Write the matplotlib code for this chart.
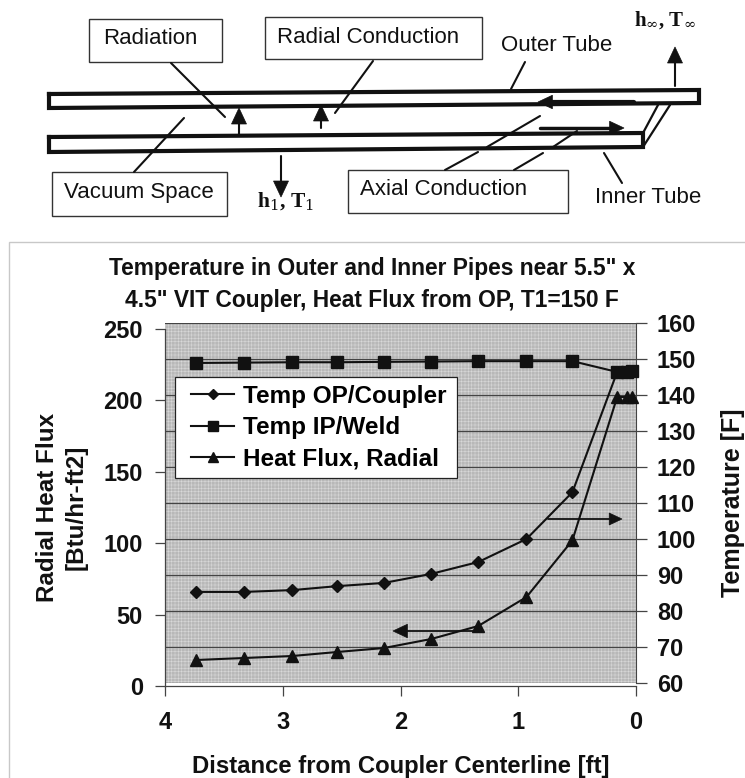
import numpy as np
import matplotlib
matplotlib.use("Agg")
import matplotlib.pyplot as plt
from matplotlib.patches import Rectangle, Polygon

plt.rcParams['font.family'] = ['Liberation Sans', 'DejaVu Sans']
plt.rcParams['hatch.linewidth'] = 0.4

W, H = 745, 778
INK = '#111111'

# series
distance = [3.74, 3.33, 2.92, 2.54, 2.14, 1.74, 1.34, 0.93, 0.54, 0.16, 0.08, 0.03]
temp_op = [85.3, 85.3, 85.8, 86.9, 87.8, 90.3, 93.6, 100, 113, 146.4, 146.6, 146.7]
temp_ip = [148.9, 149, 149.1, 149.1, 149.2, 149.3, 149.4, 149.4, 149.4, 146.4, 146.5, 146.7]
heat_flux = [18.2, 19.6, 21, 23.8, 26.6, 32.9, 42, 62.3, 102, 202.4, 202.4, 202.4]

x_ticks = [4, 3, 2, 1, 0]
left_ticks = [0, 50, 100, 150, 200, 250]
right_ticks = [60, 70, 80, 90, 100, 110, 120, 130, 140, 150, 160]
legend_labels = ["Temp OP/Coupler", "Temp IP/Weld", "Heat Flux, Radial"]

fig = plt.figure(figsize=(W / 100, H / 100), dpi=100, facecolor='white')


def pixel_axes(zorder):
    # full figure axes in pixel coordinates, y going down
    a = fig.add_axes([0, 0, 1, 1], zorder=zorder)
    a.set_xlim(0, W)
    a.set_ylim(H, 0)
    a.axis('off')
    a.patch.set_alpha(0)
    return a


bg = pixel_axes(0)
top = pixel_axes(5)
bg.add_patch(Rectangle((9, 242), W, H, fc='white', ec='#c8c8c8', lw=1.0))


def seg(x0, y0, x1, y1, lw=1.5, a=bg):
    a.plot([x0, x1], [y0, y1], color=INK, lw=lw, solid_capstyle='round')


def arrow(x0, y0, x1, y1, size=10, lw=1.5, a=bg):
    # line with a solid triangle head ending at x1, y1
    d = np.array([x1 - x0, y1 - y0], dtype=float)
    d /= np.hypot(*d)
    n = np.array([-d[1], d[0]])
    tip = np.array([x1, y1])
    base = tip - d * size * 1.6
    seg(x0, y0, base[0], base[1], lw, a)
    a.add_patch(Polygon([tip, base + n * size * 0.75, base - n * size * 0.75], fc=INK, ec=INK, lw=0.5))


def label_box(x0, y0, x1, y1, text, tx, ty):
    bg.add_patch(Rectangle((x0, y0), x1 - x0, y1 - y0, fc='white', ec='#333333', lw=1.0))
    bg.text(tx, ty, text, fontsize=16, color=INK, va='center', ha='left')


# tubes
bg.plot([49, 699, 699, 49, 49], [94, 90, 103, 108, 94], color=INK, lw=3, solid_joinstyle='miter')
bg.plot([49, 643, 643, 49, 49], [137, 133, 147, 152, 137], color=INK, lw=3, solid_joinstyle='miter')
seg(643, 133, 658, 105, 1.6)
seg(643, 147, 670, 105, 1.6)

label_box(89, 19, 222, 62, "Radiation", 103, 38)
label_box(265, 17, 482, 59, "Radial Conduction", 277, 37)
label_box(52, 172, 227, 216, "Vacuum Space", 64, 192)
label_box(348, 170, 568, 213, "Axial Conduction", 360, 189)
bg.text(501, 45, "Outer Tube", fontsize=16, color=INK, va='center')
bg.text(595, 197, "Inner Tube", fontsize=16, color=INK, va='center')
bg.text(634, 20, "h$_{\\infty}$, T$_{\\infty}$", fontsize=15, color=INK, va='center',
        family='Liberation Serif', fontweight='bold', math_fontfamily='dejavuserif')
bg.text(257, 202, "h$_{1}$, T$_{1}$", fontsize=15.5, color=INK, va='center',
        family='Liberation Serif', fontweight='bold', math_fontfamily='dejavuserif')

# leader lines
seg(171, 63, 225, 117)
seg(373, 61, 335, 113)
seg(525, 62, 511, 89)
seg(184, 118, 134, 172)
seg(604, 153, 622, 183)
seg(540, 116, 487, 147)
seg(478, 152, 445, 170)
seg(577, 131, 553, 147)
seg(543, 153, 514, 170)

# flux arrows
arrow(239, 134, 239, 108)
arrow(321, 128, 321, 105)
arrow(675, 86, 675, 47)
arrow(281, 156, 281, 197)
arrow(634, 102, 538, 102, size=9, lw=3)
arrow(540, 128, 624, 128, size=9, lw=2.5)

# right axis sits a few pixels higher than the left one, the scan is skewed
ax2 = fig.add_axes([165 / W, 1 - 683 / H, 471 / W, 360 / H], zorder=1)
ax2.set_facecolor('#b8b8b8')
ax2.add_patch(Rectangle((0, 0), 1, 1, transform=ax2.transAxes, fc='none', ec='#d8d8d8',
                        hatch='+++++', lw=0, zorder=0))
ax2.set_xlim(4, 0)
ax2.set_ylim(60, 160)
ax2.set_xticks([])
ax2.yaxis.tick_right()
ax2.yaxis.set_label_position('right')
ax2.set_yticks(right_ticks)
for name in ['top', 'left', 'bottom']:
    ax2.spines[name].set_visible(False)
ax2.spines['right'].set_color('#444444')
ax2.tick_params(axis='y', length=8, width=0.9, color='#444444', labelsize=17, pad=7)
for t in ax2.get_yticklabels():
    t.set_fontweight('bold')
    t.set_color(INK)
ax2.set_ylabel("Temperature [F]", fontsize=18, fontweight='bold', color=INK, labelpad=18)
ax2.grid(True, axis='y', color='#444444', lw=0.9)
ax2.set_axisbelow(True)

l1, = ax2.plot(distance, temp_op, color=INK, lw=1.5, marker='D', ms=6.5, clip_on=False, zorder=5)
l2, = ax2.plot(distance, temp_ip, color=INK, lw=1.5, marker='s', ms=8, clip_on=False, zorder=5)

ax = fig.add_axes([165 / W, 1 - 686 / H, 471 / W, 357 / H], zorder=2)
ax.patch.set_alpha(0)
ax.set_xlim(4, 0)
ax.set_ylim(0, 250)
ax.set_xticks(x_ticks)
ax.set_yticks(left_ticks)
for name in ['top', 'right']:
    ax.spines[name].set_visible(False)
for name in ['left', 'bottom']:
    ax.spines[name].set_color('#444444')
    ax.spines[name].set_linewidth(0.9)
ax.tick_params(length=7, width=0.9, color='#444444', labelsize=17)
ax.tick_params(axis='x', pad=11)
ax.tick_params(axis='y', pad=9)
for t in ax.get_xticklabels() + ax.get_yticklabels():
    t.set_fontweight('bold')
    t.set_color(INK)
ax.set_xlabel("Distance from Coupler Centerline [ft]", fontsize=17.2, fontweight='bold',
              color=INK, labelpad=15)
ax.set_ylabel("Radial Heat Flux\n[Btu/hr-ft2]", fontsize=17.5, fontweight='bold',
              color=INK, labelpad=11, linespacing=1.35)

l3, = ax.plot(distance, heat_flux, color=INK, lw=1.5, marker='^', ms=9, clip_on=False, zorder=5)

# legend box drawn apart so the handles can keep their inset from the frame
ax.add_patch(Rectangle((10 / 471, 1 - 149 / 357), 282 / 471, 101 / 357, transform=ax.transAxes,
                       fc='white', ec='#222222', lw=0.9, zorder=4))
leg = ax.legend([l1, l2, l3], legend_labels, loc='upper left', bbox_to_anchor=(26 / 471, 1 - 56 / 357),
                borderaxespad=0, borderpad=0, frameon=False, handlelength=1.77, labelspacing=0.33,
                handletextpad=0.37, markerscale=0.85, prop={'weight': 'bold', 'size': 17.5})

# side arrows pointing at the matching axis
arrow(548, 519, 622, 519, size=8, lw=1.3, a=top)
arrow(480, 631, 393, 631, size=9, lw=1.3, a=top)

fig.text(372 / W, 1 - 268 / H, "Temperature in Outer and Inner Pipes near 5.5\" x", fontsize=16.4,
         fontweight='bold', color=INK, ha='center', va='center')
fig.text(372 / W, 1 - 301 / H, "4.5\" VIT Coupler, Heat Flux from OP, T1=150 F", fontsize=16.4,
         fontweight='bold', color=INK, ha='center', va='center')

fig.savefig('out.png', dpi=100)
